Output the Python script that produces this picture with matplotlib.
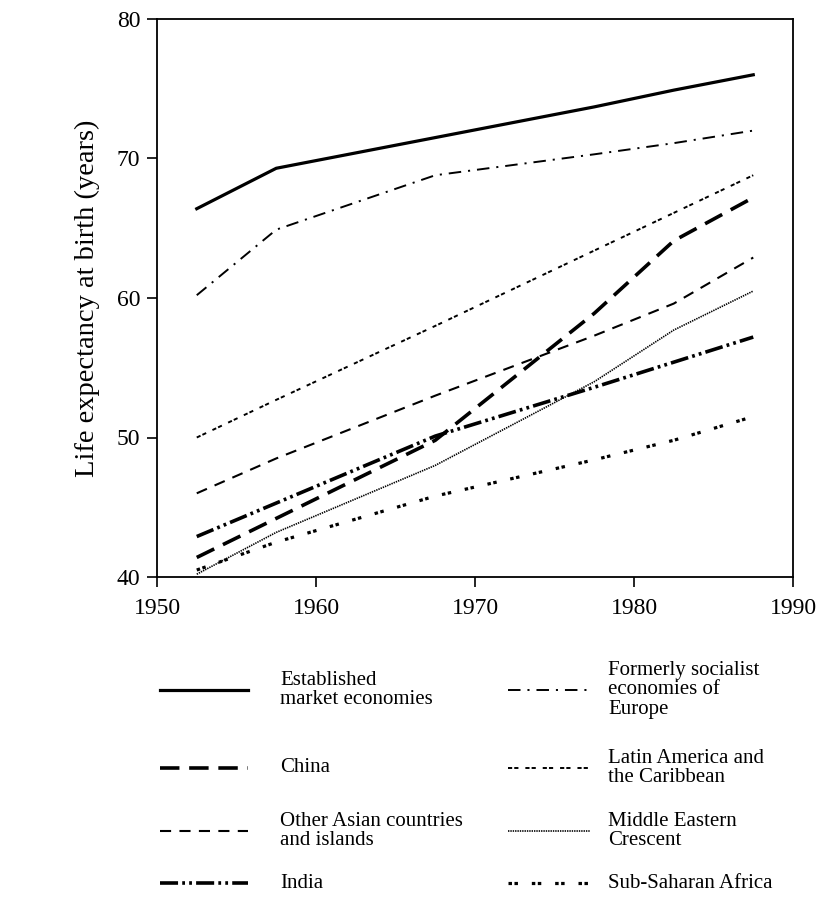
import matplotlib.pyplot as plt
import numpy as np

plt.rcParams['font.family'] = ['Liberation Serif', 'DejaVu Serif']
plt.rcParams['lines.scale_dashes'] = False

# period midpoints
years = [1952.5, 1957.5, 1967.5, 1977.5, 1982.5, 1987.5]

established = [66.4, 69.3, 71.5, 73.7, 74.9, 76.0]
socialist = [60.2, 64.9, 68.8, 70.3, 71.1, 72.0]
latin = [50.0, 52.7, 58.0, 63.4, 66.1, 68.8]
china = [41.4, 44.2, 49.8, 58.9, 64.1, 67.2]
other_asia = [46.0, 48.5, 53.0, 57.3, 59.6, 62.9]
middle_east = [40.2, 43.2, 48.0, 54.0, 57.7, 60.5]
india = [42.9, 45.3, 50.1, 53.6, 55.4, 57.2]
ssa = [40.5, 42.5, 45.8, 48.4, 49.8, 51.5]

labels = ["Established\nmarket economies", "Formerly socialist\neconomies of\nEurope",
          "China", "Latin America and\nthe Caribbean",
          "Other Asian countries\nand islands", "Middle Eastern\nCrescent",
          "India", "Sub-Saharan Africa"]
series = [established, socialist, china, latin, other_asia, middle_east, india, ssa]

# (linewidth, dashes) -- None means solid
styles = [
    (2.3, None),
    (1.4, (9, 5, 1.5, 5)),
    (2.6, (14, 7)),
    (1.4, (3, 1.5, 3, 5)),
    (1.5, (8, 6)),
    (1.2, (1, 0.7)),
    (2.6, (13, 3, 2, 3, 2, 3)),
    (2.3, (2.5, 1.8, 2.5, 10)),
]

fig = plt.figure(figsize=(8.22, 9.02), dpi=100)
ax = fig.add_axes([157/822, 1-577/902, (793-157)/822, (577-19)/902])

for vals, (lw, dash) in zip(series, styles):
    line, = ax.plot(years, vals, color='black', lw=lw)
    if dash is not None:
        line.set_dashes(dash)

ax.set_xlim(1950, 1990)
ax.set_ylim(40, 80)
ax.set_xticks([1950, 1960, 1970, 1980, 1990])
ax.set_yticks([40, 50, 60, 70, 80])
ax.tick_params(direction='out', length=7, width=1.2, labelsize=17)
ax.tick_params(axis='x', pad=8)
ax.tick_params(axis='y', pad=5)
for s in ax.spines.values():
    s.set_linewidth(1.3)
ax.set_ylabel("Life expectancy at birth (years)", fontsize=20.5, labelpad=12)

# legend drawn by hand in two columns
lax = fig.add_axes([0, 0, 1, 1 - 620/902])
lax.set_xlim(0, 822)
lax.set_ylim(902, 620)
lax.axis('off')

row_y = [690, 768, 831, 883]
col_x = [(160, 248, 280), (508, 590, 608)]
for i, (lab, (lw, dash)) in enumerate(zip(labels, styles)):
    r, c = i // 2, i % 2
    x0, x1, xt = col_x[c]
    y = row_y[r]
    ln, = lax.plot([x0, x1], [y, y], color='black', lw=lw)
    if dash is not None:
        ln.set_dashes(dash)
    lax.text(xt, y, lab, fontsize=15, va='center', ha='left', linespacing=1.02)

fig.savefig("out.png", dpi=100)
